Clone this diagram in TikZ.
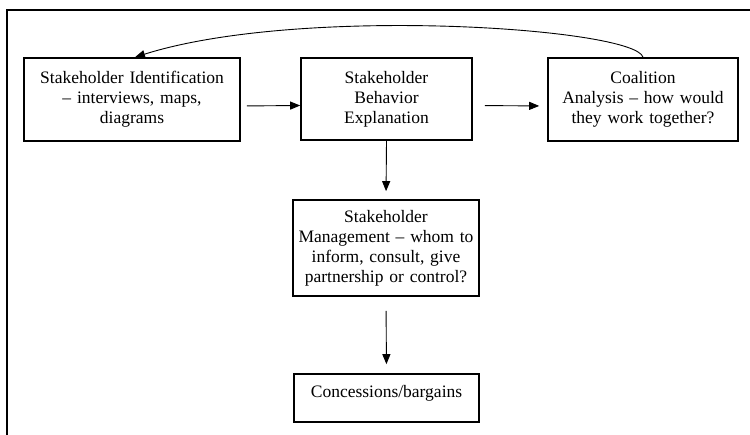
\documentclass[tikz,border=0pt]{standalone}
\usepackage{fontspec}
\setmainfont{Liberation Serif}
\usetikzlibrary{arrows.meta}

\begin{document}
\begin{tikzpicture}[x=1pt,y=-1pt,>={Triangle[length=10pt,width=8pt]},
  font=\fontsize{17.5}{20}\selectfont,
  stagebox/.style={draw,line width=1.6pt,align=center,inner xsep=3pt,inner ysep=0pt},
  flow/.style={->,line width=0.9pt}]
\useasboundingbox (0,0) rectangle (750,435);
% frame
\draw[line width=2pt] (7,435) -- (7,10) -- (750,10);
% stages
\node[stagebox,text width=210pt,minimum height=83pt] (ident) at (132,99.5)
  {Stakeholder Identification\\-- interviews, maps,\\diagrams};
\node[stagebox,text width=165pt,minimum height=82pt] (behav) at (386.5,99)
  {Stakeholder\\Behavior\\Explanation};
\node[stagebox,text width=184pt,minimum height=83pt] (coal) at (643,99.5)
  {Coalition\\Analysis -- how would\\they work together?};
\node[stagebox,text width=180pt,minimum height=96pt] (manage) at (386,248)
  {Stakeholder\\Management -- whom to\\inform, consult, give\\partnership or control?};
\node[stagebox,text width=179pt,minimum height=48pt,text depth=14pt] (concess) at (386.5,398)
  {Concessions/bargains};
% connectors
\draw[flow,shorten <=6pt] ([yshift=-6.5pt]ident.east) -- ([yshift=-6.5pt]behav.west);
\draw[flow,shorten <=12pt,shorten >=8pt] ([yshift=-6.5pt]behav.east) -- ([yshift=-6.5pt]coal.west);
\draw[flow,shorten >=8pt] (behav.south) -- (manage.north);
\draw[flow,shorten <=14pt,shorten >=9pt] (manage.south) -- (concess.north);
\draw[flow] (coal.north) .. controls (635,28) and (300,5) .. ([xshift=3pt]ident.north);
\end{tikzpicture}
\end{document}
